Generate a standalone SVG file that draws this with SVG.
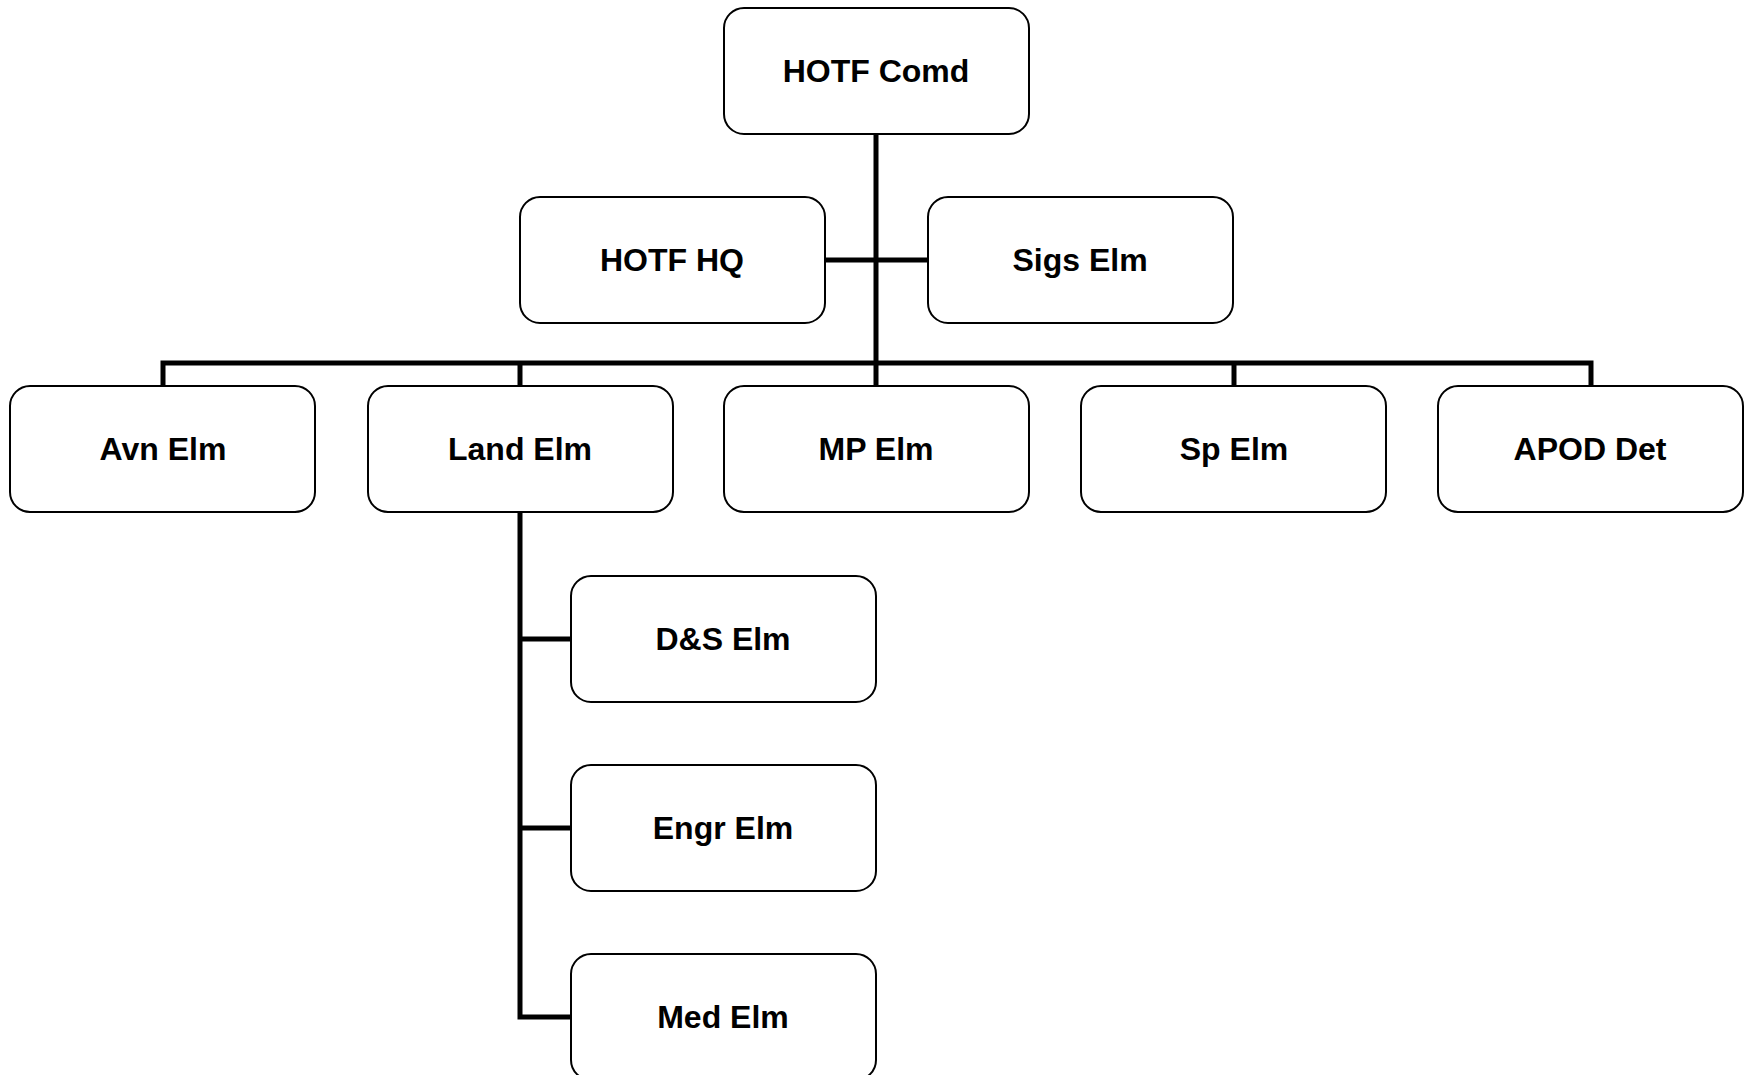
<svg xmlns="http://www.w3.org/2000/svg" width="1746" height="1075" viewBox="0 0 1746 1075">
<style>
.box{fill:#fff;stroke:#000;stroke-width:2}
.lbl{font-family:"Liberation Sans",Arial,sans-serif;font-weight:bold;font-size:32px;text-anchor:middle;fill:#000}
.con{fill:none;stroke:#000;stroke-width:5;stroke-linejoin:miter;stroke-linecap:butt}
</style>
<rect width="1746" height="1075" fill="#fff"/>
<g id="connectors">
<path class="con" d="M876 134V386"/>
<path class="con" d="M825 260H928"/>
<path class="con" d="M163 386V363H1591V386"/>
<path class="con" d="M520 363V386"/>
<path class="con" d="M1234 363V386"/>
<path class="con" d="M520 512V1017H571"/>
<path class="con" d="M520 639H571"/>
<path class="con" d="M520 828H571"/>
</g>
<g id="hotf-comd"><rect class="box" x="724" y="8" width="305" height="126" rx="20"/><text class="lbl" x="876" y="82">HOTF Comd</text></g>
<g id="hotf-hq"><rect class="box" x="520" y="197" width="305" height="126" rx="20"/><text class="lbl" x="672" y="271">HOTF HQ</text></g>
<g id="sigs-elm"><rect class="box" x="928" y="197" width="305" height="126" rx="20"/><text class="lbl" x="1080" y="271">Sigs Elm</text></g>
<g id="avn-elm"><rect class="box" x="10" y="386" width="305" height="126" rx="20"/><text class="lbl" x="163" y="460">Avn Elm</text></g>
<g id="land-elm"><rect class="box" x="368" y="386" width="305" height="126" rx="20"/><text class="lbl" x="520" y="460">Land Elm</text></g>
<g id="mp-elm"><rect class="box" x="724" y="386" width="305" height="126" rx="20"/><text class="lbl" x="876" y="460">MP Elm</text></g>
<g id="sp-elm"><rect class="box" x="1081" y="386" width="305" height="126" rx="20"/><text class="lbl" x="1234" y="460">Sp Elm</text></g>
<g id="apod-det"><rect class="box" x="1438" y="386" width="305" height="126" rx="20"/><text class="lbl" x="1590" y="460">APOD Det</text></g>
<g id="ds-elm"><rect class="box" x="571" y="576" width="305" height="126" rx="20"/><text class="lbl" x="723" y="650">D&amp;S Elm</text></g>
<g id="engr-elm"><rect class="box" x="571" y="765" width="305" height="126" rx="20"/><text class="lbl" x="723" y="839">Engr Elm</text></g>
<g id="med-elm"><rect class="box" x="571" y="954" width="305" height="126" rx="20"/><text class="lbl" x="723" y="1028">Med Elm</text></g>
</svg>
